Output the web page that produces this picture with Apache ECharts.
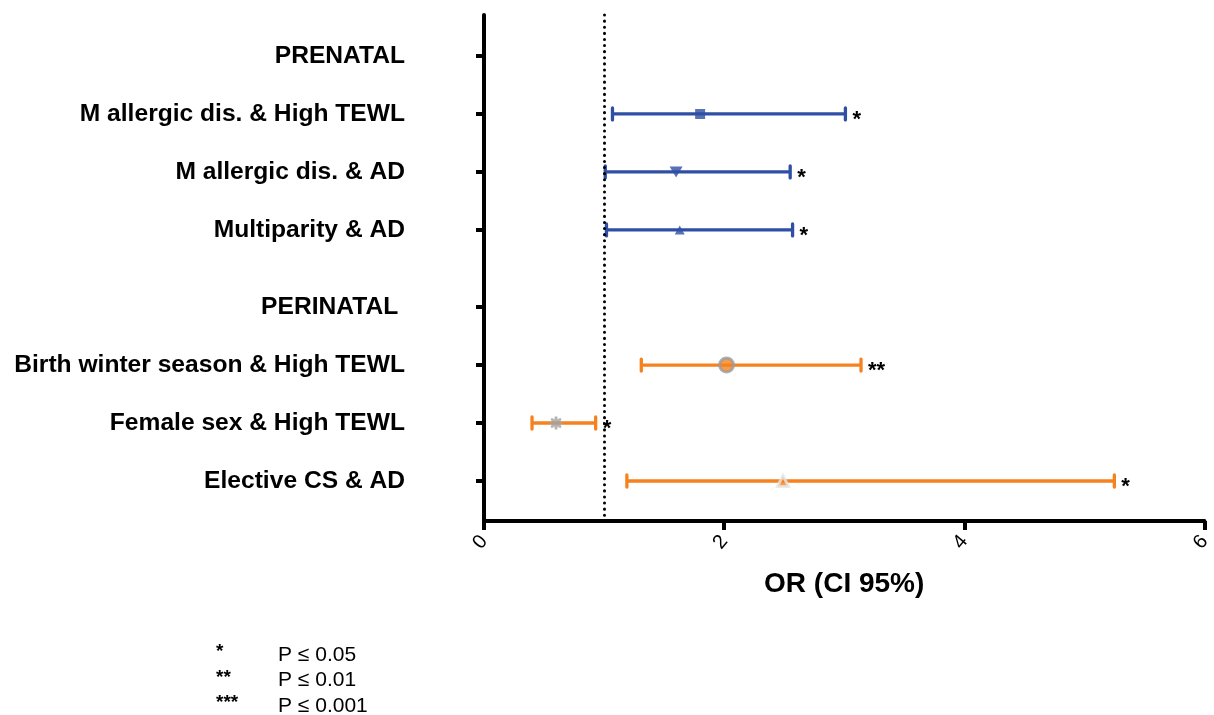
<!DOCTYPE html>
<html><head><meta charset="utf-8">
<script src="https://cdn.jsdelivr.net/npm/echarts@6/dist/echarts.min.js"></script>
<style>html,body{margin:0;padding:0;background:#fff}#c{width:1214px;height:715px}</style>
</head><body><div id="c"></div>
<script>
// Row labels (top to bottom) and their positions on the vertical axis
const rowLabels = ['PRENATAL','M allergic dis. & High TEWL','M allergic dis. & AD','Multiparity & AD','PERINATAL ','Birth winter season & High TEWL','Female sex & High TEWL','Elective CS & AD'];
const rowPos = [0,1,2,3,4.33,5.33,6.33,7.33];
// Estimates (rows 2-4, 6-8)
const estRows = [1,2,3,5,6,7];
const orValues = [1.80,1.60,1.63,2.02,0.60,2.49];
const ciLow = [1.07,1.01,1.02,1.31,0.40,1.19];
const ciHigh = [3.01,2.55,2.57,3.14,0.93,5.25];
const significance = ['*','*','*','**','*','*'];
const xTicks = [0,2,4,6];
const refLine = 1;
const legendKeys = ['*','**','***'];
const legendTexts = ['P ≤ 0.05','P ≤ 0.01','P ≤ 0.001'];

const BLUE = '#2e4fa3', ORANGE = '#f5821f', GRAY = '#9b9b9b';
const colors = [BLUE,BLUE,BLUE,ORANGE,ORANGE,ORANGE];
const gearPath = 'path://M8 0 L12 0 L12.5 4.5 L16.5 2 L18.5 4.5 L16 8 L20 8.5 L20 11.5 L16 12 L18.5 15.5 L16.5 18 L12.5 15.5 L12 20 L8 20 L7.5 15.5 L3.5 18 L1.5 15.5 L4 12 L0 11.5 L0 8.5 L4 8 L1.5 4.5 L3.5 2 L7.5 4.5 Z';
const markerStyles = [
  {symbol:'rect', symbolSize:10, itemStyle:{color:BLUE}},
  {symbol:'triangle', symbolSize:[13,11], symbolRotate:180, itemStyle:{color:BLUE}},
  {symbol:'triangle', symbolSize:[10,9], itemStyle:{color:BLUE}},
  {symbol:'circle', symbolSize:14, itemStyle:{color:ORANGE, borderColor:GRAY, borderWidth:3}},
  {symbol:gearPath, symbolSize:13, itemStyle:{color:'#a3a3a3'}},
  {symbol:'triangle', symbolSize:11, itemStyle:{color:ORANGE, borderColor:'#e6e6e6', borderWidth:3}}
];

const errData = estRows.map((r,i)=>[ciLow[i], ciHigh[i], rowPos[r]]);
const ptData = estRows.map((r,i)=>Object.assign({value:[orValues[i], rowPos[r]]}, markerStyles[i]));

const FONT = 'Liberation Sans, Arial, sans-serif';
const graphics = [];
legendKeys.forEach((k,i)=>{
  graphics.push({type:'text', style:{text:k, x:216, y:652+i*25.5, font:'bold 19px '+FONT, fill:'#000', textVerticalAlign:'middle'}});
  graphics.push({type:'text', style:{text:legendTexts[i], x:278, y:655+i*25.5, font:'21px '+FONT, fill:'#000', textVerticalAlign:'middle'}});
});

const chart = echarts.init(document.getElementById('c'), null, {renderer:'canvas'});
chart.setOption({
  animation:false,
  backgroundColor:'#fff',
  grid:{left:484, right:8, top:15, bottom:194, containLabel:false},
  xAxis:{
    type:'value', min:0, max:6, interval:2,
    axisLine:{show:true, onZero:false, lineStyle:{color:'#000', width:4}},
    axisTick:{show:true, length:9, lineStyle:{color:'#000', width:4}},
    splitLine:{show:false},
    axisLabel:{rotate:50, color:'#000', fontSize:20, fontFamily:FONT, margin:17,
      customValues:xTicks},
    name:'OR (CI 95%)', nameLocation:'middle', nameGap:49,
    nameTextStyle:{color:'#000', fontSize:28, fontWeight:'bold', fontFamily:FONT}
  },
  yAxis:{
    type:'value', inverse:true, min:-0.707, max:8.02,
    axisLine:{show:true, onZero:false, lineStyle:{color:'#000', width:4}},
    axisTick:{show:true, length:8, customValues:rowPos, lineStyle:{color:'#000', width:4}},
    splitLine:{show:false},
    axisLabel:{customValues:rowPos, margin:79, color:'#000', fontSize:24.6, fontWeight:'bold',
      fontFamily:FONT,
      formatter:function(v){ let k=0,b=1e9; rowPos.forEach((p,i)=>{if(Math.abs(p-v)<b){b=Math.abs(p-v);k=i;}}); return rowLabels[k]; }}
  },
  series:[
    {
      type:'custom', data:errData, z:3,
      renderItem:function(params, api){
        const i = params.dataIndex;
        const lo = api.coord([api.value(0), api.value(2)]);
        const hi = api.coord([api.value(1), api.value(2)]);
        const c = colors[i];
        const cap = 6;
        const st = {stroke:c, lineWidth:3.3};
        return {type:'group', children:[
          {type:'line', shape:{x1:lo[0],y1:lo[1],x2:hi[0],y2:hi[1]}, style:st},
          {type:'line', shape:{x1:lo[0],y1:lo[1]-cap,x2:lo[0],y2:lo[1]+cap}, style:Object.assign({lineCap:'round'},st)},
          {type:'line', shape:{x1:hi[0],y1:hi[1]-cap,x2:hi[0],y2:hi[1]+cap}, style:Object.assign({lineCap:'round'},st)},
          {type:'text', style:{text:significance[i], x:hi[0]+7, y:hi[1]+6, fill:'#000', font:'bold 22px '+FONT, textVerticalAlign:'middle', textAlign:'left'}}
        ]};
      },
      markLine:{
        silent:true, symbol:'none', label:{show:false},
        lineStyle:{color:'#000', width:3, type:[0.1,6], cap:'round'},
        data:[{xAxis:refLine}]
      }
    },
    {
      type:'scatter', data:ptData, z:5
    }
  ],
  graphic:graphics
});
</script></body></html>
